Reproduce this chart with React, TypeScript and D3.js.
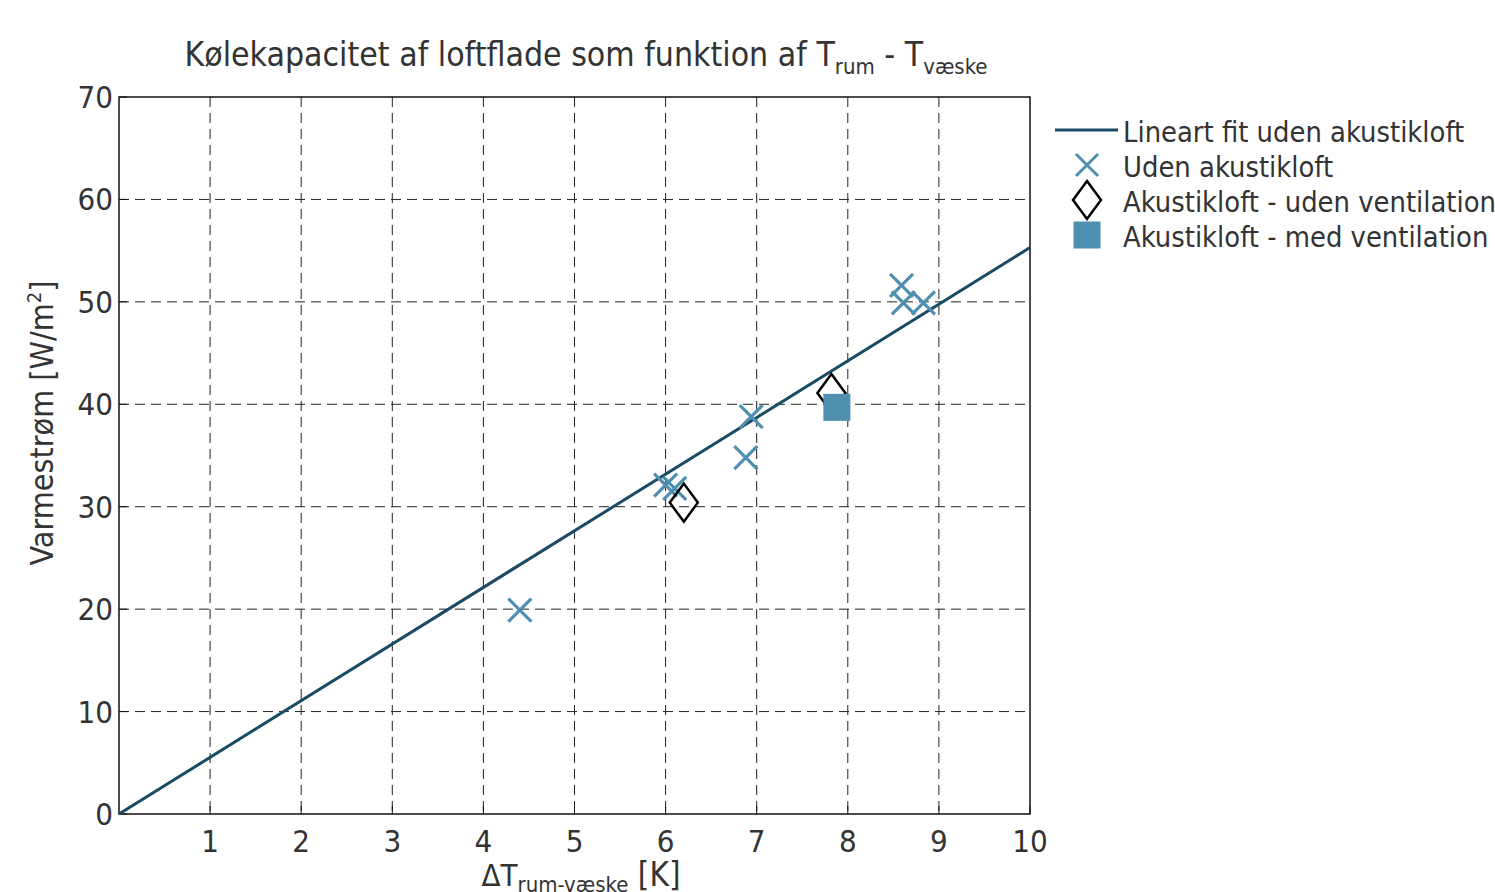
import React, { useEffect, useRef } from 'react';
import * as d3 from 'd3';

// fit line (uden akustikloft)
const fitX = [0, 10];
const fitY = [0, 55.3];

// Uden akustikloft
const udenX = [4.4, 6.0, 6.1, 6.88, 6.94, 8.59, 8.61, 8.83];
const udenY = [19.9, 32.1, 31.8, 34.8, 38.8, 51.6, 49.9, 49.9];

// Akustikloft - uden ventilation
const akuUdenX = [6.2, 7.82];
const akuUdenY = [30.4, 41.1];

// Akustikloft - med ventilation
const akuMedX = [7.88];
const akuMedY = [39.7];

const xTicks = [1, 2, 3, 4, 5, 6, 7, 8, 9, 10];
const yTicks = [0, 10, 20, 30, 40, 50, 60, 70];

const legendLabels = [
  'Lineart fit uden akustikloft',
  'Uden akustikloft',
  'Akustikloft - uden ventilation',
  'Akustikloft - med ventilation',
];

const FONT = '"DejaVu Sans Condensed", "DejaVu Sans", sans-serif';
const TXT = '#333333';
const LINE = '#1b4a66';
const BLUE = '#4f8fb0';

const App = () => {
  const svgRef = useRef<SVGSVGElement>(null);

  useEffect(() => {
    const svg = d3.select(svgRef.current);
    svg.selectAll('*').remove();

    const left = 119, right = 1030, top = 97, bottom = 814;
    const x = d3.scaleLinear().domain([0, 10]).range([left, right]);
    const y = d3.scaleLinear().domain([0, 70]).range([bottom, top]);

    const g = svg.append('g');

    // grid
    g.selectAll('.gx')
      .data(xTicks.filter((t) => t < 10))
      .enter()
      .append('line')
      .attr('x1', (d) => x(d)).attr('x2', (d) => x(d))
      .attr('y1', top).attr('y2', bottom)
      .attr('stroke', '#222').attr('stroke-width', 1)
      .attr('stroke-dasharray', '10,6');
    g.selectAll('.gy')
      .data(yTicks.filter((t) => t > 0 && t < 70))
      .enter()
      .append('line')
      .attr('x1', left).attr('x2', right)
      .attr('y1', (d) => y(d)).attr('y2', (d) => y(d))
      .attr('stroke', '#222').attr('stroke-width', 1)
      .attr('stroke-dasharray', '10,6');

    // frame
    g.append('rect')
      .attr('x', left).attr('y', top)
      .attr('width', right - left).attr('height', bottom - top)
      .attr('fill', 'none').attr('stroke', '#111').attr('stroke-width', 1.5);

    // ticks (inward)
    g.selectAll('.tx')
      .data(xTicks)
      .enter()
      .append('line')
      .attr('x1', (d) => x(d)).attr('x2', (d) => x(d))
      .attr('y1', bottom).attr('y2', bottom - 8)
      .attr('stroke', '#111');
    g.selectAll('.ty')
      .data(yTicks)
      .enter()
      .append('line')
      .attr('x1', left).attr('x2', left + 8)
      .attr('y1', (d) => y(d)).attr('y2', (d) => y(d))
      .attr('stroke', '#111');

    // tick labels
    g.selectAll('.lx')
      .data(xTicks)
      .enter()
      .append('text')
      .attr('x', (d) => x(d)).attr('y', bottom + 38)
      .attr('text-anchor', 'middle')
      .attr('font-family', FONT).attr('font-size', 31).attr('fill', TXT)
      .text((d) => d);
    g.selectAll('.ly')
      .data(yTicks)
      .enter()
      .append('text')
      .attr('x', left - 6).attr('y', (d) => y(d) + 11)
      .attr('text-anchor', 'end')
      .attr('font-family', FONT).attr('font-size', 31).attr('fill', TXT)
      .text((d) => d);

    // fit line
    const line = d3.line<number>()
      .x((d) => x(d))
      .y((_, i) => y(fitY[i]));
    g.append('path')
      .attr('d', line(fitX))
      .attr('fill', 'none').attr('stroke', LINE).attr('stroke-width', 3);

    const cross = (s: number) => `M${-s},${-s}L${s},${s}M${-s},${s}L${s},${-s}`;
    const diamond = (w: number, h: number) => `M0,${-h}L${w},0L0,${h}L${-w},0Z`;

    // crosses
    g.selectAll('.cr')
      .data(udenX)
      .enter()
      .append('path')
      .attr('transform', (d, i) => `translate(${x(d)},${y(udenY[i])})`)
      .attr('d', cross(11.5))
      .attr('fill', 'none').attr('stroke', BLUE).attr('stroke-width', 3.2);

    // diamonds
    g.selectAll('.dm')
      .data(akuUdenX)
      .enter()
      .append('path')
      .attr('transform', (d, i) => `translate(${x(d)},${y(akuUdenY[i])})`)
      .attr('d', diamond(14, 19))
      .attr('fill', 'none').attr('stroke', '#000').attr('stroke-width', 2.5);

    // squares
    g.selectAll('.sq')
      .data(akuMedX)
      .enter()
      .append('rect')
      .attr('x', (d) => x(d) - 13.5).attr('y', (_, i) => y(akuMedY[i]) - 13.5)
      .attr('width', 27).attr('height', 27)
      .attr('fill', BLUE);

    // title
    const title = svg.append('text')
      .attr('x', 586).attr('y', 66)
      .attr('text-anchor', 'middle')
      .attr('font-family', FONT).attr('font-size', 33.5).attr('fill', TXT);
    title.append('tspan').text('Kølekapacitet af loftflade som funktion af T');
    title.append('tspan').attr('font-size', 22).attr('dy', 8).text('rum');
    title.append('tspan').attr('dy', -8).text(' - T');
    title.append('tspan').attr('font-size', 22).attr('dy', 8).text('væske');

    // x label
    const xl = svg.append('text')
      .attr('x', 581).attr('y', 886)
      .attr('text-anchor', 'middle')
      .attr('font-family', FONT).attr('font-size', 31).attr('fill', TXT);
    xl.append('tspan').text('ΔT');
    xl.append('tspan').attr('font-size', 22).attr('dy', 6).text('rum-væske');
    xl.append('tspan').attr('dy', -6).attr('font-size', 33).text(' [K]');

    // y label
    const yl = svg.append('text')
      .attr('transform', `translate(53,${423}) rotate(-90)`)
      .attr('text-anchor', 'middle')
      .attr('font-family', FONT).attr('font-size', 32).attr('fill', TXT);
    yl.append('tspan').text('Varmestrøm [W/m');
    yl.append('tspan').attr('font-size', 20).attr('dy', -12).text('2');
    yl.append('tspan').attr('dy', 12).text(']');

    // legend
    const lg = svg.append('g');
    const rowY = [132, 167, 202, 237];
    lg.append('line')
      .attr('x1', 1055).attr('x2', 1118)
      .attr('y1', rowY[0] - 2).attr('y2', rowY[0] - 2)
      .attr('stroke', LINE).attr('stroke-width', 3);
    lg.append('path')
      .attr('transform', `translate(1087,${rowY[1] - 2})`)
      .attr('d', cross(11))
      .attr('fill', 'none').attr('stroke', BLUE).attr('stroke-width', 3);
    lg.append('path')
      .attr('transform', `translate(1087,${rowY[2] - 2})`)
      .attr('d', diamond(14, 19))
      .attr('fill', 'none').attr('stroke', '#000').attr('stroke-width', 2.5);
    lg.append('rect')
      .attr('x', 1087 - 13.5).attr('y', rowY[3] - 2 - 13.5)
      .attr('width', 27).attr('height', 27)
      .attr('fill', BLUE);
    lg.selectAll('.lt')
      .data(legendLabels)
      .enter()
      .append('text')
      .attr('x', 1123).attr('y', (_, i) => rowY[i] + 10)
      .attr('font-family', FONT).attr('font-size', 28.8).attr('fill', TXT)
      .text((d) => d);
  }, []);

  return (
    <svg
      ref={svgRef}
      width={1495}
      height={892}
      style={{ position: 'absolute', left: 0, top: 0, background: '#fff' }}
    />
  );
};

export default App;
